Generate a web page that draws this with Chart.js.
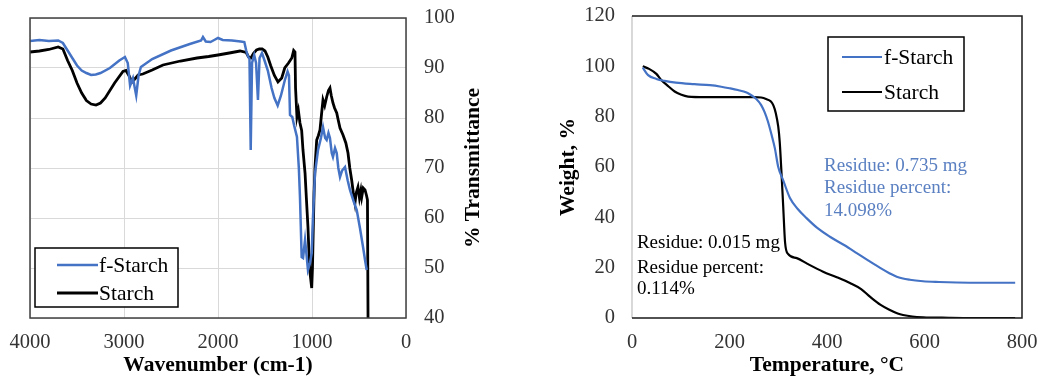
<!DOCTYPE html>
<html><head><meta charset="utf-8">
<script src="https://cdn.jsdelivr.net/npm/chart.js@4.4.1/dist/chart.umd.min.js"></script>
<style>
html,body{margin:0;padding:0;background:#fff;}
#wrap{position:relative;width:1041px;height:383px;overflow:hidden;background:#fff;}
#c1{position:absolute;left:0;top:0;}
#c2{position:absolute;left:520px;top:0;}
</style></head><body>
<div id="wrap"><canvas id="c1" width="520" height="383"></canvas><canvas id="c2" width="521" height="383"></canvas></div>
<script>
// ---------- FTIR data ----------
const ftirXTicks = [4000, 3000, 2000, 1000, 0];
const ftirYTicks = [40, 50, 60, 70, 80, 90, 100];
const fStarchWavenumber = [4000,3900,3800,3700,3650,3600,3550,3500,3450,3400,3350,3300,3250,3150,3050,2990,2960,2935,2905,2870,2845,2820,2700,2500,2300,2180,2160,2130,2080,2040,2000,1950,1850,1760,1720,1700,1680,1665,1652,1638,1615,1595,1575,1558,1532,1505,1470,1430,1400,1365,1330,1290,1260,1245,1234,1210,1190,1160,1140,1128,1110,1095,1074,1060,1043,1021,1003,990,968,936,905,883,860,844,825,809,790,777,755,737,720,702,680,649,620,596,560,524,490,457,435,418];
const fStarchTransmittance = [95.4,95.6,95.4,95.5,95,93.5,92,90.5,89.5,89,88.6,88.7,89,90,91.5,92.2,91,86.5,88,84.5,88.5,90.2,91.8,93.5,94.8,95.5,96.2,95.3,95.2,95.6,96,95.6,95.5,95.3,95.2,93.5,92.3,91.8,73.6,91,92.6,91,83.6,92,93,91.5,89.5,86,84,82.5,84.5,87.5,89.3,88.5,80.6,80.2,78.5,76.2,70,64.2,52.2,52,55.6,53,49.6,51,53,60,69,73.6,76,78.2,76,75.6,77,76,73,72.2,74,73,70,68.2,69.5,70.2,67.5,65.6,63.5,61.6,58,54.2,51.5,49.6];
const starchWavenumber = [4000,3900,3800,3700,3650,3600,3550,3500,3450,3400,3350,3298,3250,3200,3100,3011,2979,2945,2915,2885,2850,2800,2700,2585,2400,2223,2100,2000,1880,1766,1700,1675,1650,1620,1590,1560,1530,1500,1470,1440,1400,1362,1322,1290,1250,1215,1195,1181,1175,1160,1145,1128,1110,1096,1074,1060,1043,1030,1021,1003,995,989,978,968,950,932,915,900,883,865,844,825,809,795,777,760,737,720,702,670,640,617,598,578,560,543,530,511,495,480,471,455,436,420,410,404];
const starchTransmittance = [93.2,93.4,93.7,94.2,93.8,91.5,89.5,87,85,83.5,82.8,82.6,83,84,87,89.3,89.5,88.4,87.2,87.8,88.6,88.8,89.6,90.6,91.4,92,92.3,92.6,93,93.4,93.1,92.2,92,93,93.6,93.8,93.8,93.4,92.2,90.5,88.5,87.2,88,90,91,92,93.5,93.2,86,80.2,81.5,79,77.5,73.6,69,64,58.2,52,49,46,50,55.6,65,70.2,75.6,76.5,77.6,80.5,83.6,82.5,84.2,85.5,86,84.5,83,82,81,79.5,78,76.6,75,73,70,67.6,65,63,65,66.2,64,65.5,64.2,66,65.6,64.5,63.6,40];

// ---------- TGA data ----------
const tgaXTicks = [0, 200, 400, 600, 800];
const tgaYTicks = [0, 20, 40, 60, 80, 100, 120];
const fStarchTemp = [22,33,50,67,90,128,160,183,200,217,235,244,255,265,272,279,286,293,300,310,324,340,358,380,406,435,461,485,509,528,543,570,597,630,666,720,786];
const fStarchWeight = [99.5,96.5,95,94.2,93.5,92.9,92.5,91.9,91.3,90.6,89.6,88.6,87,84.6,81.8,78,73,67.5,60,54.8,47.7,43.3,39.7,35.8,32.3,29,25.8,22.8,19.9,17.8,16.4,15.2,14.6,14.3,14.1,14,14];
const starchTemp = [22,35,50,60,75,87.5,100,115,150,200,250,265,275,285,290,295,300,303,306,310,314,320,338,360,392,420,447,470,488,510,529,545,556,575,597,650,700,786];
const starchWeight = [100,99,97,94.6,92,90,88.8,88,87.8,87.8,87.8,87.6,87,86,84.5,81.4,76,70,60,45,30,25.5,23.8,21.5,18.4,16.2,13.9,11.5,8.5,5.2,3.2,1.8,1.2,0.6,0.3,0.1,0,0];

const seriesNames = ['f-Starch', 'Starch'];
const annotationBlue = ['Residue: 0.735 mg', 'Residue percent:', '14.098%'];
const annotationBlack = ['Residue: 0.015 mg', 'Residue percent:', '0.114%'];

const BLUE = '#4472C4';
const FONT = "'Liberation Serif', 'Times New Roman', serif";
const pts = (xs, ys) => xs.map((x, i) => ({x: x, y: ys[i]}));
const plainTick = v => String(v);
function noPad(s) { s.paddingLeft = 0; s.paddingRight = 0; s.paddingTop = 0; s.paddingBottom = 0; }

function drawLegend(ctx, chart, box, lineX0, lineX1, rowsY, textX) {
  ctx.save();
  ctx.fillStyle = '#fff';
  ctx.fillRect(box.x, box.y, box.w, box.h);
  ctx.strokeStyle = '#000';
  ctx.lineWidth = 1.5;
  ctx.strokeRect(box.x, box.y, box.w, box.h);
  chart.data.datasets.forEach((ds, i) => {
    ctx.strokeStyle = ds.borderColor;
    ctx.lineWidth = ds.borderWidth;
    ctx.beginPath();
    ctx.moveTo(lineX0, rowsY[i]);
    ctx.lineTo(lineX1, rowsY[i]);
    ctx.stroke();
    ctx.fillStyle = '#000';
    ctx.font = '21.5px ' + FONT;
    ctx.textBaseline = 'middle';
    ctx.textAlign = 'left';
    ctx.fillText(ds.label, textX, rowsY[i] + 1);
  });
  ctx.restore();
}

// ---------- FTIR chart ----------
const ftirPlugin = {
  id: 'ftirDecor',
  afterDraw(chart) {
    const ctx = chart.ctx, a = chart.chartArea;
    ctx.save();
    ctx.strokeStyle = '#404040';
    ctx.lineWidth = 1.5;
    ctx.strokeRect(a.left, a.top, a.right - a.left, a.bottom - a.top);
    ctx.translate(473, (a.top + a.bottom) / 2);
    ctx.rotate(-Math.PI / 2);
    ctx.font = 'bold 21.5px ' + FONT;
    ctx.fillStyle = '#000';
    ctx.textAlign = 'center';
    ctx.textBaseline = 'middle';
    ctx.fillText('% Transmittance', 0, 0);
    ctx.restore();
    drawLegend(ctx, chart, {x: 35, y: 248, w: 143, h: 59}, 57, 98, [265, 293], 99);
  }
};

new Chart(document.getElementById('c1'), {
  type: 'line',
  data: {
    datasets: [
      {label: seriesNames[0], data: pts(fStarchWavenumber, fStarchTransmittance), borderColor: BLUE, borderWidth: 2.5, pointRadius: 0, tension: 0, fill: false},
      {label: seriesNames[1], data: pts(starchWavenumber, starchTransmittance), borderColor: '#000', borderWidth: 2.8, pointRadius: 0, tension: 0, fill: false}
    ]
  },
  options: {
    responsive: false, animation: false, devicePixelRatio: 1,
    layout: {autoPadding: false, padding: {left: 30, top: 18, right: 0, bottom: 0}},
    plugins: {legend: {display: false}, tooltip: {enabled: false}},
    scales: {
      x: {
        type: 'linear', reverse: true, min: 0, max: 4000,
        afterBuildTicks: s => { s.ticks = ftirXTicks.map(v => ({value: v})); },
        afterFit: s => { s.height = 65; noPad(s); },
        grid: {color: '#d9d9d9', lineWidth: 1, drawTicks: false},
        border: {display: false},
        ticks: {padding: 12, color: '#333', font: {family: FONT, size: 20.5}, maxRotation: 0, callback: plainTick},
        title: {display: true, text: 'Wavenumber (cm-1)', color: '#000', font: {family: FONT, size: 21.5, weight: 'bold'}, padding: {top: 0, bottom: 5}}
      },
      y: {
        type: 'linear', position: 'right', min: 40, max: 100,
        afterBuildTicks: s => { s.ticks = ftirYTicks.map(v => ({value: v})); },
        afterFit: s => { s.width = 114; noPad(s); },
        grid: {color: '#d9d9d9', lineWidth: 1, drawTicks: false},
        border: {display: false},
        ticks: {padding: 18, color: '#333', font: {family: FONT, size: 20.5}, callback: plainTick}
      }
    }
  },
  plugins: [ftirPlugin]
});

// ---------- TGA chart ----------
const tgaPlugin = {
  id: 'tgaDecor',
  afterDraw(chart) {
    const ctx = chart.ctx, a = chart.chartArea;
    const xs = chart.scales.x, ys = chart.scales.y;
    ctx.save();
    ctx.strokeStyle = '#bfbfbf';
    ctx.lineWidth = 1.2;
    ctx.beginPath(); ctx.moveTo(a.left, a.top); ctx.lineTo(a.left, a.bottom); ctx.stroke();
    ctx.strokeStyle = '#1a1a1a';
    ctx.lineWidth = 1.5;
    ctx.beginPath();
    ctx.moveTo(a.left, a.top); ctx.lineTo(a.right, a.top); ctx.lineTo(a.right, a.bottom); ctx.lineTo(a.left, a.bottom);
    ctx.stroke();
    ctx.font = '19px ' + FONT;
    ctx.textAlign = 'left';
    ctx.textBaseline = 'middle';
    ctx.fillStyle = '#5b80c2';
    const bx = xs.getPixelForValue(394);
    [60.4, 51.7, 42.5].forEach((w, i) => ctx.fillText(annotationBlue[i], bx, ys.getPixelForValue(w)));
    ctx.fillStyle = '#000';
    const kx = xs.getPixelForValue(10);
    [29.8, 19.9, 11.5].forEach((w, i) => ctx.fillText(annotationBlack[i], kx, ys.getPixelForValue(w)));
    ctx.restore();
    drawLegend(ctx, chart, {x: 308, y: 37, w: 136, h: 74}, 322, 362, [57, 92], 364);
  }
};

new Chart(document.getElementById('c2'), {
  type: 'line',
  data: {
    datasets: [
      {label: seriesNames[0], data: pts(fStarchTemp, fStarchWeight), borderColor: BLUE, borderWidth: 2.2, pointRadius: 0, cubicInterpolationMode: 'monotone', fill: false},
      {label: seriesNames[1], data: pts(starchTemp, starchWeight), borderColor: '#000', borderWidth: 2.2, pointRadius: 0, cubicInterpolationMode: 'monotone', fill: false}
    ]
  },
  options: {
    responsive: false, animation: false, devicePixelRatio: 1,
    layout: {autoPadding: false, padding: {left: 0, top: 16, right: 19, bottom: 0}},
    plugins: {legend: {display: false}, tooltip: {enabled: false}},
    scales: {
      x: {
        type: 'linear', min: 0, max: 800,
        afterBuildTicks: s => { s.ticks = tgaXTicks.map(v => ({value: v})); },
        afterFit: s => { s.height = 65; noPad(s); },
        grid: {display: false, drawTicks: false},
        border: {display: false},
        ticks: {padding: 12, color: '#333', font: {family: FONT, size: 20.5}, maxRotation: 0, callback: plainTick},
        title: {display: true, text: 'Temperature, °C', color: '#000', font: {family: FONT, size: 21.5, weight: 'bold'}, padding: {top: 0, bottom: 5}}
      },
      y: {
        type: 'linear', min: 0, max: 120,
        afterBuildTicks: s => { s.ticks = tgaYTicks.map(v => ({value: v})); },
        afterFit: s => { s.width = 112; noPad(s); },
        grid: {display: false, drawTicks: false},
        border: {display: false},
        ticks: {padding: 17, color: '#333', font: {family: FONT, size: 20.5}, callback: plainTick},
        title: {display: true, text: 'Weight, %', color: '#000', font: {family: FONT, size: 21.5, weight: 'bold'}, padding: {top: 36, bottom: 0}}
      }
    }
  },
  plugins: [tgaPlugin]
});
</script>
</body></html>
